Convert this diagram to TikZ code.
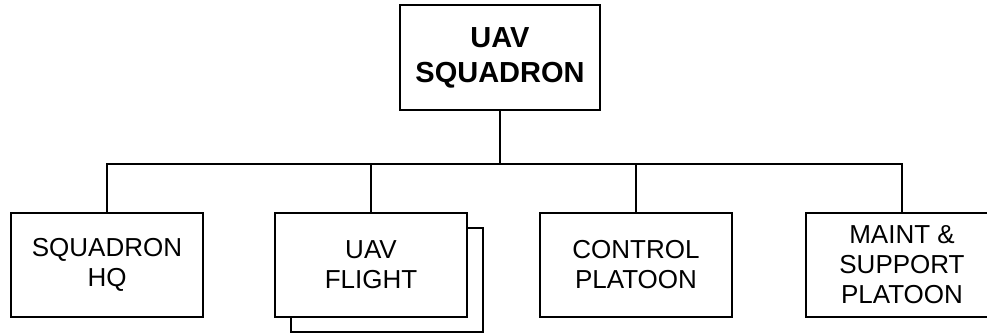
\documentclass[tikz,border=0pt]{standalone}
\usepackage{fontspec}
\setmainfont{Liberation Sans}
\usepackage{tikz}

\begin{document}
\begin{tikzpicture}[x=1pt, y=-1pt, line width=1.5pt, font=\fontsize{26}{30}\selectfont]
				\useasboundingbox (0,0) rectangle (987,333);
				\tikzset{unit/.style={draw, rectangle, align=center, fill=white, minimum width=192pt, minimum height=104pt, inner sep=0pt}}
				% Kommandoebene
				\node[unit, minimum width=200pt, minimum height=105pt, font=\fontsize{29}{35}\selectfont\bfseries] (sqn) at (500,57.5) {UAV\\SQUADRON};
				% Verteilerlinie
				\coordinate (bus) at (500,164);
				% Einheiten
				\node[unit] (hq) at (107,265) {SQUADRON\\HQ};
				\node[unit] (flight2) at (387,280) {};
				\node[unit] (flight) at (371,265) {UAV\\FLIGHT};
				\node[unit] (ctrl) at (636,265) {CONTROL\\PLATOON};
				\node[unit] (mnt) at (902,265) {MAINT \&\\SUPPORT\\PLATOON};
				% Verbindungen
				\draw (sqn.south) -- (bus);
				\draw (hq.north) -- (hq.north |- bus) -- (mnt.north |- bus) -- (mnt.north);
				\foreach \u in {flight,ctrl} \draw (\u.north) -- (\u.north |- bus);
		\end{tikzpicture}
\end{document}
